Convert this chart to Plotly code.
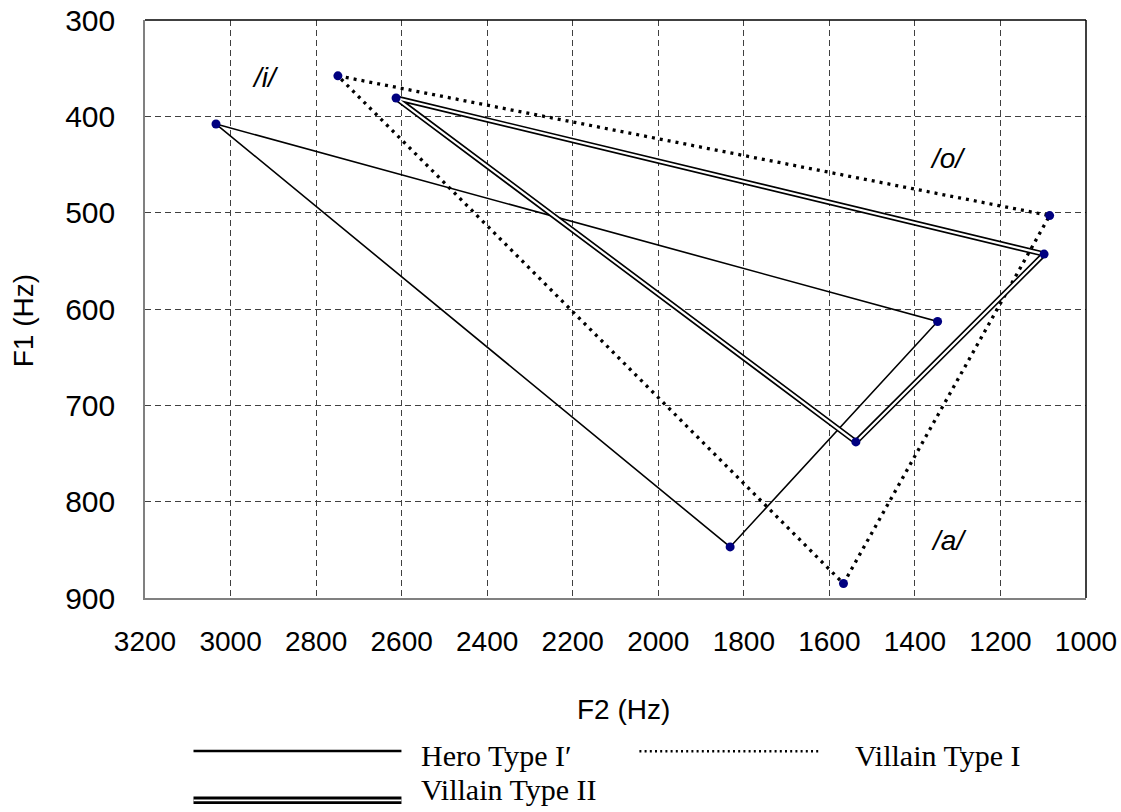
import plotly.graph_objects as go

# Data (F2, F1 in Hz)
hero_f2 = [3034, 1347, 1832, 3034]
hero_f1 = [408, 613, 847, 408]

villain1_f2 = [2749, 1085, 1567, 2749]
villain1_f1 = [358, 503, 885, 358]

villain2_f2 = [2613, 1098, 1538, 2613]
villain2_f1 = [381, 543, 738, 381]

vowel_labels = ["/i/", "/o/", "/a/"]
vowel_f2 = [2918, 1322, 1320]
vowel_f1 = [360, 444, 840]

x_ticks = [3200, 3000, 2800, 2600, 2400, 2200, 2000, 1800, 1600, 1400, 1200, 1000]
y_ticks = [300, 400, 500, 600, 700, 800, 900]

SANS = "Liberation Sans, Arial, sans-serif"
SERIF = "Liberation Serif, Times New Roman, serif"
NAVY = "#000080"

W, H = 1121, 812
L, R, T, B = 144.5, 1085.7, 20, 598.5

def px(x):
    return (x - L) / (R - L)

def py(y):
    return (B - y) / (B - T)

fig = go.Figure()

# Hero Type I' (solid)
fig.add_trace(go.Scatter(x=hero_f2, y=hero_f1, mode="lines",
                         line=dict(color="black", width=1.6), showlegend=False))
# Villain Type I (dotted)
fig.add_trace(go.Scatter(x=villain1_f2, y=villain1_f1, mode="lines",
                         line=dict(color="black", width=3.3, dash="3px,5px"), showlegend=False))
# Villain Type II (double line: black thick + white thin)
fig.add_trace(go.Scatter(x=villain2_f2, y=villain2_f1, mode="lines",
                         line=dict(color="black", width=5.5), showlegend=False))
fig.add_trace(go.Scatter(x=villain2_f2, y=villain2_f1, mode="lines",
                         line=dict(color="white", width=2.2), showlegend=False))

# Markers
for xs, ys in [(hero_f2, hero_f1), (villain1_f2, villain1_f1), (villain2_f2, villain2_f1)]:
    fig.add_trace(go.Scatter(x=xs[:-1], y=ys[:-1], mode="markers",
                             marker=dict(color=NAVY, size=9), showlegend=False))

# Vowel labels
for lab, xv, yv in zip(vowel_labels, vowel_f2, vowel_f1):
    fig.add_annotation(x=xv, y=yv, text=f"<i>{lab}</i>", showarrow=False,
                       font=dict(family=SANS, size=28, color="black"),
                       xanchor="center", yanchor="middle")

grid_common = dict(showgrid=True, gridcolor="#404040", gridwidth=1, griddash="6px,4px",
                   zeroline=False, showline=True, linecolor="#808080", linewidth=1.5,
                   mirror=False, ticks="", automargin=False)

fig.update_xaxes(range=[3200, 1000], tickvals=x_ticks, ticktext=[str(v) for v in x_ticks],
                 tickfont=dict(family=SANS, size=28, color="black"),
                 ticklabelstandoff=18, **grid_common)
fig.update_yaxes(range=[900, 300], tickvals=y_ticks, ticktext=[str(v) for v in y_ticks],
                 tickfont=dict(family=SANS, size=30, color="black"),
                 ticklabelstandoff=22, **grid_common)

shapes = []
# Top and right frame lines (dark)
shapes.append(dict(type="line", xref="paper", yref="paper", x0=0, x1=1, y0=1, y1=1,
                   line=dict(color="black", width=1.5)))
shapes.append(dict(type="line", xref="paper", yref="paper", x0=1, x1=1, y0=0, y1=1,
                   line=dict(color="black", width=1.5)))

# Legend glyphs
shapes.append(dict(type="line", xref="paper", yref="paper", x0=px(193), x1=px(401),
                   y0=py(751.7), y1=py(751.7), line=dict(color="black", width=2.5)))
shapes.append(dict(type="line", xref="paper", yref="paper", x0=px(639), x1=px(821),
                   y0=py(752), y1=py(752), line=dict(color="black", width=2.5, dash="2px,3.2px")))
shapes.append(dict(type="line", xref="paper", yref="paper", x0=px(193), x1=px(401),
                   y0=py(801), y1=py(801), line=dict(color="black", width=7.5)))
shapes.append(dict(type="line", xref="paper", yref="paper", x0=px(193), x1=px(401),
                   y0=py(801), y1=py(801), line=dict(color="white", width=1.8)))
fig.update_layout(shapes=shapes)

legend_texts = [("Hero Type I\u2032", 419, 756), ("Villain Type I", 853, 756),
                ("Villain Type II", 419, 790)]
for txt, xx, yy in legend_texts:
    fig.add_annotation(xref="paper", yref="paper", x=px(xx), y=py(yy), text=txt,
                       showarrow=False, xanchor="left", yanchor="middle",
                       font=dict(family=SERIF, size=30, color="black"))

# Axis titles
fig.add_annotation(xref="paper", yref="paper", x=px(623), y=py(710), text="F2 (Hz)",
                   showarrow=False, xanchor="center", yanchor="middle",
                   font=dict(family=SANS, size=28, color="black"))
fig.add_annotation(xref="paper", yref="paper", x=px(23), y=py(321), text="F1 (Hz)",
                   showarrow=False, xanchor="center", yanchor="middle", textangle=-90,
                   font=dict(family=SANS, size=28, color="black"))

fig.update_layout(width=W, height=H, margin=dict(l=L, r=W - R, t=T, b=H - B),
                  plot_bgcolor="white", paper_bgcolor="white", showlegend=False)

fig.write_html("out.html")
